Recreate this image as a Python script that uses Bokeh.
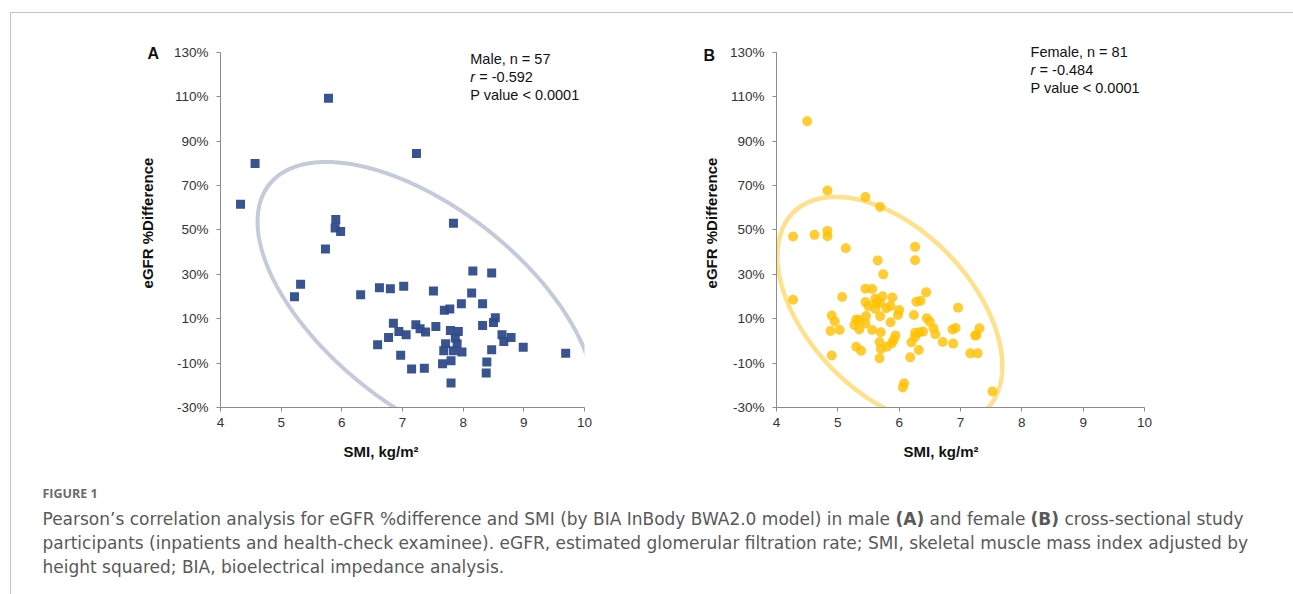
import numpy as np
from bokeh.plotting import figure
from bokeh.models import Range1d, FixedTicker, PrintfTickFormatter, Label, Title
from bokeh.layouts import row, column
from bokeh.embed import file_html
from bokeh.resources import INLINE

male_smi = [5.78, 4.57, 4.33, 7.23, 5.90, 5.89, 5.98, 5.73, 7.84,
            5.22, 5.32, 6.31, 6.62, 6.80, 7.02, 7.51, 8.16, 8.47, 8.14,
            7.97, 8.32, 7.69, 7.78, 8.53, 8.50, 8.32, 6.85, 7.22, 7.29,
            7.38, 7.55, 6.94, 7.06, 6.77, 6.59, 6.97, 7.79, 7.92, 7.87,
            7.90, 7.71, 7.68, 7.84, 7.80, 7.66, 7.15, 7.36, 7.80, 7.98,
            8.47, 8.39, 8.38, 8.64, 8.67, 8.79, 8.99, 9.69]
male_diff = [109.4, 80.0, 61.6, 84.5, 54.7, 50.9, 49.3, 41.4, 53.0,
             19.9, 25.6, 20.8, 24.0, 23.5, 24.6, 22.5, 31.5, 30.6, 21.6,
             16.8, 16.8, 13.8, 14.4, 10.5, 8.3, 7.0, 8.0, 7.3, 5.5,
             4.0, 6.5, 4.3, 2.8, 1.6, -1.7, -6.5, 4.7, 4.3, 1.3,
             -1.3, -1.3, -4.4, -4.4, -8.9, -10.3, -12.7, -12.3, -19.0, -5.0,
             -4.0, -9.5, -14.4, 2.8, -0.2, 1.6, -2.8, -5.6]

female_smi = [4.50, 4.83, 5.45, 5.69, 4.27, 4.62, 4.83, 4.83, 5.13, 5.65, 6.26, 6.26, 5.74,
              4.27, 5.07, 4.90, 4.95, 4.88, 5.03, 4.90, 5.30, 5.35, 5.27,
              5.35, 5.30, 5.38, 5.45, 5.56, 5.45, 5.50, 5.46, 5.45, 5.56,
              5.61, 5.63, 5.61, 5.69, 5.73, 5.69, 5.70, 5.68, 5.70, 5.68,
              5.79, 5.86, 5.89, 5.86, 5.80, 5.88, 5.91, 5.94, 5.98, 6.00,
              6.24, 6.28, 6.35, 6.44, 6.26, 6.33, 6.39, 6.26, 6.20, 6.32,
              6.18, 6.45, 6.50, 6.56, 6.59, 6.71, 6.87, 6.92, 6.88, 6.96,
              7.24, 7.26, 7.31, 7.16, 7.28, 6.08, 6.06, 7.52]
female_diff = [99.0, 67.8, 64.9, 60.4, 47.1, 47.8, 49.6, 47.2, 41.8, 36.3, 42.4, 36.4, 30.0,
               18.6, 19.8, 11.5, 8.8, 4.5, 4.9, -6.6, 9.7, 9.4, 7.2,
               5.2, -2.6, -4.4, 23.5, 23.4, 17.5, 15.7, 11.2, 7.9, 4.9,
               19.0, 17.2, 14.5, 17.1, 20.1, 11.1, 3.9, -0.5, -3.6, -7.8,
               14.7, 15.7, 19.6, 8.4, -2.6, -1.1, 0.4, 2.4, 11.7, 13.9,
               11.7, 17.7, 18.1, 21.9, 3.7, 3.9, 4.2, 1.8, -0.6, -4.1,
               -7.4, 10.2, 8.7, 5.7, 3.0, -0.5, 5.2, 5.8, -1.2, 15.0,
               2.4, 2.7, 5.7, -5.6, -5.6, -19.1, -21.0, -22.8]

x_ticks = [4, 5, 6, 7, 8, 9, 10]
y_ticks = [-30, -10, 10, 30, 50, 70, 90, 110, 130]
male_r_text = "-0.592"
female_r_text = "-0.484"
ELLIPSE_K = 2.52   # scale of the confidence ellipse drawn round each group

def conf_ellipse(xs, ys, k=ELLIPSE_K, n=600):
    x = np.asarray(xs, dtype=float); y = np.asarray(ys, dtype=float)
    r = np.corrcoef(x, y)[0, 1]
    cx, cy = x.mean(), y.mean()
    sx, sy = k*x.std(ddof=1), k*y.std(ddof=1)
    t = np.linspace(0, 2*np.pi, n)
    return cx + sx*np.cos(t), cy + sy*(r*np.cos(t) + np.sqrt(1 - r*r)*np.sin(t))

FONT = "Liberation Sans"
TXT = "#111111"
Y_TOP = 136.3

def make_panel(width, mbl, mbr, ylab_standoff):
    p = figure(width=width, height=470, x_range=Range1d(4, 10), y_range=Range1d(-30, Y_TOP),
               output_backend="svg", toolbar_location=None,
               min_border_left=mbl, min_border_right=mbr, min_border_top=25, min_border_bottom=76)
    p.outline_line_color = None
    p.grid.visible = False
    for ax in (p.xaxis[0], p.yaxis[0]):
        ax.axis_line_color = "#8c8c8c"
        ax.major_tick_line_color = "#8c8c8c"
        ax.major_tick_out = 4
        ax.major_tick_in = 0
        ax.minor_tick_line_color = None
        ax.major_label_text_font = FONT
        ax.major_label_text_font_size = "13.5px"
        ax.major_label_text_color = "#333333"
    p.xaxis.ticker = FixedTicker(ticks=x_ticks)
    p.yaxis.ticker = FixedTicker(ticks=y_ticks)
    p.yaxis.bounds = (-30, 130)
    p.yaxis.formatter = PrintfTickFormatter(format="%d%%")
    p.xaxis.major_label_standoff = 6
    p.yaxis.major_label_standoff = 8
    p.yaxis.axis_label = "eGFR %Difference"
    p.yaxis.axis_label_text_font = FONT
    p.yaxis.axis_label_text_font_style = "bold"
    p.yaxis.axis_label_text_font_size = "15px"
    p.yaxis.axis_label_text_color = TXT
    p.yaxis.axis_label_standoff = ylab_standoff
    return p

def add_texts(p, letter, letter_standoff, tx, ty, dy, line1, rtxt, xt_off):
    p.add_layout(Title(text=letter, align="left", offset=-73, vertical_align="bottom",
                       standoff=letter_standoff, text_font=FONT, text_font_style="bold",
                       text_font_size="16px", text_color=TXT), "above")
    p.add_layout(Title(text="SMI, kg/m\u00b2", align="left", offset=xt_off, vertical_align="top",
                       standoff=26, text_font=FONT, text_font_style="bold",
                       text_font_size="15px", text_color=TXT), "below")
    p.add_layout(Label(x=tx, y=ty, text=line1, text_font=FONT, text_font_size="14.5px",
                       text_baseline="middle", text_color=TXT))
    p.add_layout(Label(x=tx, y=ty - dy, text="r", text_font=FONT, text_font_style="italic",
                       text_font_size="14.5px", text_baseline="middle", text_color=TXT))
    p.add_layout(Label(x=tx, y=ty - dy, x_offset=9, text="= " + rtxt, text_font=FONT,
                       text_font_size="14.5px", text_baseline="middle", text_color=TXT))
    p.add_layout(Label(x=tx, y=ty - 2*dy, text="P value < 0.0001", text_font=FONT,
                       text_font_size="14.5px", text_baseline="middle", text_color=TXT))

pA = make_panel(680, 209, 107, 15)
exA, eyA = conf_ellipse(male_smi, male_diff)
pA.line(exA, eyA, line_color="#C3CAD9", line_width=4)
pA.scatter(male_smi, male_diff, marker="square", size=9, fill_color="#2E4B8A", fill_alpha=0.95, line_color=None)
add_texts(pA, "A", -47, 8.117, 127.2, 8.2, "Male, n = 57", male_r_text, 123)

pB = make_panel(602, 85, 149, 7)
exB, eyB = conf_ellipse(female_smi, female_diff)
pB.line(exB, eyB, line_color="#FFE08C", line_width=4.5)
pB.scatter(female_smi, female_diff, marker="circle", size=10, fill_color="#FFC000", fill_alpha=0.8, line_color=None)
add_texts(pB, "B", -51, 8.143, 130.1, 8.0, "Female, n = 81", female_r_text, 127)

cap = figure(width=1282, height=111, x_range=Range1d(0, 1282), y_range=Range1d(111, 0),
             output_backend="svg", toolbar_location=None, min_border=0,
             x_axis_location=None, y_axis_location=None)
cap.outline_line_color = None
cap.grid.visible = False
CAPF = "DejaVu Sans"
CAPC = "#595959"
CAPS = "17px"
cap.add_layout(Label(x=31, y=10, text="FIGURE 1", text_font="Open Sans", text_font_style="bold",
                     text_font_size="12.5px", text_baseline="middle", text_color="#6b6b6b"))
segs = [(31, "Pearson\u2019s correlation analysis for eGFR %difference and SMI (by BIA InBody BWA2.0 model) in male", "normal"),
        (884, "(A)", "bold"), (918, "and female", "normal"), (1019, "(B)", "bold"),
        (1053, "cross-sectional study", "normal")]
for x, t, st in segs:
    cap.add_layout(Label(x=x, y=35, text=t, text_font=CAPF, text_font_style=st, text_font_size=CAPS,
                         text_baseline="middle", text_color=CAPC))
cap.add_layout(Label(x=31, y=59, text="participants (inpatients and health-check examinee). eGFR, estimated glomerular filtration rate; SMI, skeletal muscle mass index adjusted by",
                     text_font=CAPF, text_font_size=CAPS, text_baseline="middle", text_color=CAPC))
cap.add_layout(Label(x=31, y=83, text="height squared; BIA, bioelectrical impedance analysis.",
                     text_font=CAPF, text_font_size=CAPS, text_baseline="middle", text_color=CAPC))

root = column(row(pA, pB), cap, margin=(12, 0, 0, 10),
              styles={"border-top": "1px solid #c4c4c4", "border-left": "1px solid #c4c4c4"})
open("out.html", "w").write(file_html(root, INLINE))
